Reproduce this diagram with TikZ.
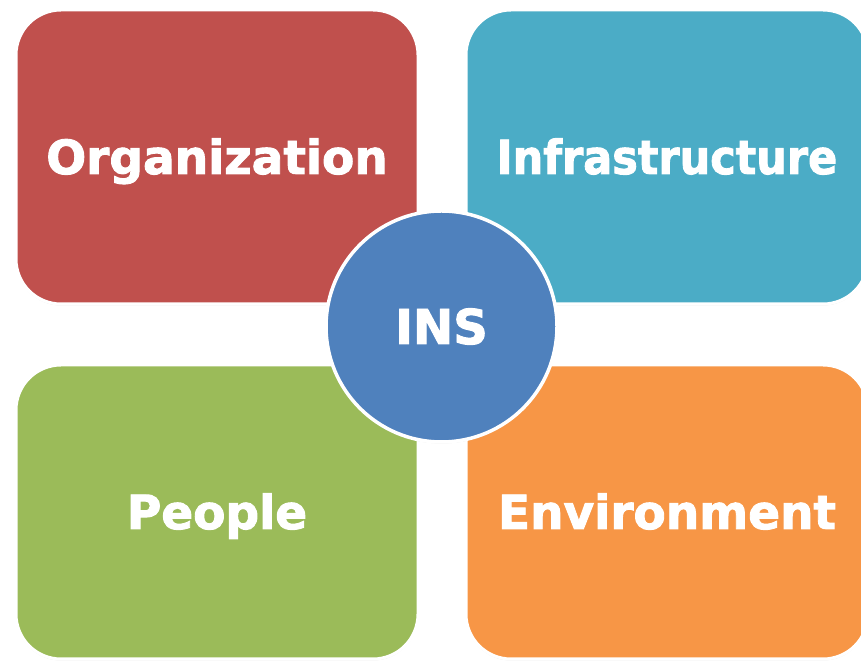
\documentclass[tikz,border=0pt]{standalone}
\usepackage{fontspec}
\setmainfont{DejaVu Sans}[BoldFeatures={FakeBold=2}]
\usetikzlibrary{shadows}
\definecolor{orgred}{HTML}{C0504D}
\definecolor{infcyan}{HTML}{4BACC6}
\definecolor{peogreen}{HTML}{9BBB59}
\definecolor{envorange}{HTML}{F79646}
\definecolor{insblue}{HTML}{4F81BD}
\begin{document}
\begin{tikzpicture}[x=1pt,y=1pt,
	area/.style={rectangle,rounded corners=45pt,draw=white,line width=3pt,
		minimum width=402pt,minimum height=294pt,text=white,
		text height=34pt,text depth=0pt,
		font=\fontsize{47}{50}\selectfont\bfseries,
		drop shadow={opacity=0.18,shadow xshift=0pt,shadow yshift=-1.5pt}},
	hub/.style={circle,draw=white,line width=3.5pt,minimum size=231pt,
		fill=insblue,text=white,text height=35pt,text depth=0pt,
		font=\fontsize{48}{50}\selectfont\bfseries,
		drop shadow={opacity=0.25,shadow xshift=0pt,shadow yshift=-1.5pt}}]
	\clip (0,0) rectangle (861,663);
	\fill[white] (0,0) rectangle (861,663);
	% four areas
	\node[area,fill=orgred] (org) at (217,506) {Organization};
	\node[area,fill=infcyan] (inf) at (667,506) {\scalebox{0.915}[1]{Infrastructure}};
	\node[area,fill=peogreen] (peo) at (217,151) {People};
	\node[area,fill=envorange] (env) at (667,151) {Environment};
	% centre
	\node[hub] (ins) at (441.5,336.5) {INS};
\end{tikzpicture}
\end{document}
